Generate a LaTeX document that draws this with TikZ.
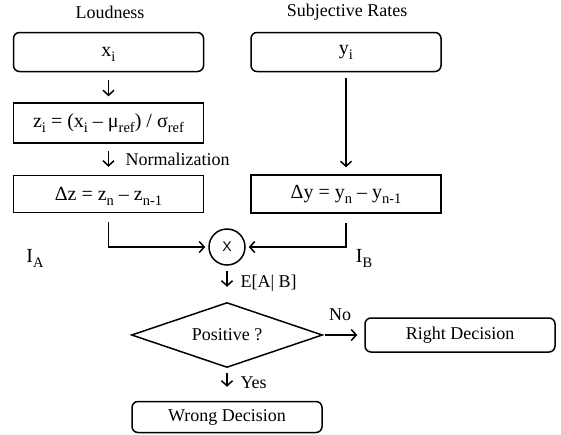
\documentclass[tikz,border=0pt]{standalone}
\usepackage{fontspec}
\setmainfont{Liberation Serif}
\newfontfamily\arialfont{Liberation Sans}
\usetikzlibrary{shapes.geometric,arrows.meta}
\newcommand\lowsub[1]{\raisebox{-5pt}[0pt][0pt]{\fontsize{14.5}{16}\selectfont #1}}

\begin{document}
\begin{tikzpicture}[x=1pt,y=-1pt,font=\fontsize{18}{21}\selectfont,
    rbox/.style={draw,line width=1.5pt,rounded corners=6pt,minimum width=190pt,inner sep=0pt},
    sbox/.style={draw,line width=1.5pt,minimum width=190pt,inner sep=0pt},
    eqn/.style={font=\fontsize{20}{24}\selectfont},
    arr/.style={line width=1.5pt,-{Straight Barb[length=5pt,width=11pt]}}]
  \useasboundingbox (0,0) rectangle (561,434);
  \node (loud) at (110,12) {Loudness};
  \node (subj) at (347,12) {Subjective Rates};
  \node[rbox,eqn,minimum height=39pt] (xi) at (108.5,52) {x\lowsub{i}};
  \node[sbox,eqn,minimum height=40pt] (zi) at (108.5,123) {z\lowsub{i} = (x\lowsub{i} – μ\lowsub{ref}) / σ\lowsub{ref}};
  \node[sbox,eqn,minimum height=37pt] (dz) at (108.5,194) {Δz = z\lowsub{n} – z\lowsub{n-1}};
  \node[rbox,eqn,minimum height=39pt] (yi) at (346,52) {y\lowsub{i}};
  \node[sbox,eqn,minimum height=38pt] (dy) at (346,194) {Δy = y\lowsub{n} – y\lowsub{n-1}};
  \node[circle,draw,line width=1.5pt,minimum size=36pt,inner sep=0pt,font=\arialfont\fontsize{14}{16}\selectfont] (mul) at (227,247) {X};
  \node[diamond,draw,line width=1.5pt,minimum width=191pt,minimum height=65pt,aspect=2.9,inner sep=0pt] (pos) at (227,335) {Positive ?};
  \node[rbox,minimum height=34pt] (right) at (460,335) {Right Decision};
  \node[rbox,minimum height=31pt] (wrong) at (227,417) {Wrong Decision};
  \node[eqn] (ia) at (35,256) {I\lowsub{A}};
  \node[eqn] (ib) at (364,256) {I\lowsub{B}};
  \node[anchor=west] (norm) at (122,159) {Normalization};
  \node[anchor=west] (eab) at (237,283) {E[A| B]};
  \node (no) at (340,315) {No};
  \node[anchor=west] (yes) at (237,383) {Yes};
  \draw[arr,shorten <=8pt,shorten >=6pt] (xi) -- (zi);
  \draw[arr,shorten <=7pt,shorten >=8pt] (zi) -- (dz);
  \draw[arr,shorten <=6pt,shorten >=7pt] (yi) -- (dy);
  \draw[arr,shorten <=9pt,shorten >=3pt] (dz) |- (mul);
  \draw[arr,shorten <=9pt,shorten >=3pt] (dy) |- (mul);
  \draw[arr,shorten <=5pt,shorten >=15pt] (mul) -- (pos);
  \draw[arr,shorten <=2pt,shorten >=7pt] (pos) -- (right);
  \draw[arr,shorten <=5pt,shorten >=14pt] (pos) -- (wrong);
\end{tikzpicture}
\end{document}
